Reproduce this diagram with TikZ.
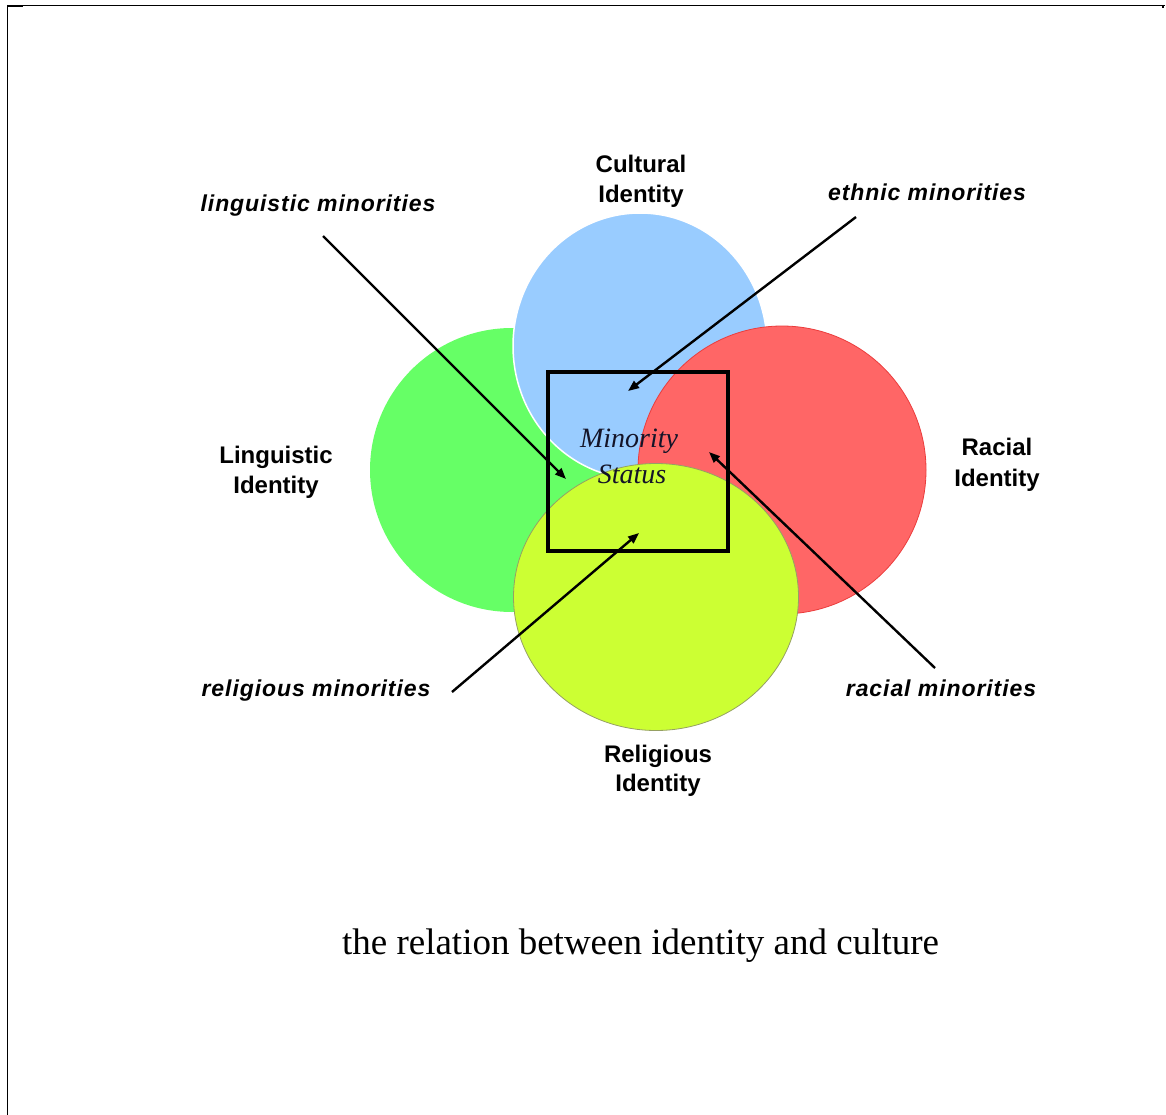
\documentclass[tikz,border=0pt]{standalone}
\usepackage{fontspec}
\setmainfont{Liberation Serif}
\setsansfont{Liberation Sans}
\usetikzlibrary{arrows.meta}
\definecolor{cblue}{RGB}{153,204,255}
\definecolor{cgreen}{RGB}{102,255,102}
\definecolor{cred}{RGB}{255,102,102}
\definecolor{credb}{RGB}{235,60,60}
\definecolor{cyel}{RGB}{204,255,51}
\definecolor{cyelb}{RGB}{150,160,100}
\definecolor{cnavy}{RGB}{20,20,40}
\begin{document}
\begin{tikzpicture}[x=1pt,y=-1pt,
  idlabel/.style={font=\sffamily\bfseries\fontsize{24}{30}\selectfont, inner sep=0pt, anchor=base},
  minlabel/.style={font=\sffamily\bfseries\itshape\fontsize{23}{28}\selectfont\addfontfeatures{LetterSpace=4}, inner sep=0pt, anchor=base},
  mslabel/.style={font=\itshape\fontsize{28}{34}\selectfont, text=cnavy, inner sep=0pt, anchor=base},
  arr/.style={line width=2.4pt, -{Triangle[length=11pt,width=8.5pt]}},
  frameline/.style={line width=1.3pt, black}]
\useasboundingbox (0,0) rectangle (1166,1115);
% frame
\draw[frameline] (7,5.5) -- (1165,5.5);
\draw[line width=1.8pt] (7.5,5) -- (7.5,1115);
\draw[line width=2.2pt] (7,6) -- (23,6);
\draw[line width=2.2pt] (1163,5) -- (1163,8);
% circles
\fill[cgreen] (512,470) circle[radius=142pt];
\filldraw[fill=cblue, draw=white, line width=1.5pt] (640,346) ellipse[x radius=127pt, y radius=133pt];
\filldraw[fill=cred, draw=credb, line width=0.8pt] (782,470) circle[radius=144pt];
\filldraw[fill=cyel, draw=cyelb, line width=0.8pt] (656,597) ellipse[x radius=142.5pt, y radius=133.5pt];
% box
\node[draw, line width=3.6pt, minimum width=180pt, minimum height=179pt, inner sep=0pt] (box) at (638,461.5) {};
% minority status
\node[mslabel] (ms1) at (629,447) {Minority};
\node[mslabel] (ms2) at (632,483) {Status};
% identity labels
\node[idlabel] (cul1) at (641,173) {Cultural};
\node[idlabel] (cul2) at (641,203) {Identity};
\node[idlabel] (lin1) at (276,463) {Linguistic};
\node[idlabel] (lin2) at (276,493) {Identity};
\node[idlabel] (rac1) at (997,455) {Racial};
\node[idlabel] (rac2) at (997,486) {Identity};
\node[idlabel] (rel1) at (658,762) {Religious};
\node[idlabel] (rel2) at (658,791) {Identity};
% minority labels
\node[minlabel] (lm) at (318,212) {linguistic minorities};
\node[minlabel] (em) at (927,201) {ethnic minorities};
\node[minlabel] (rm) at (316,696) {religious minorities};
\node[minlabel] (cm) at (941,696) {racial minorities};
% arrow endpoints
\coordinate (lmS) at (323,236);
\coordinate (lmT) at (566,479);
\coordinate (emS) at (856,217);
\coordinate (emT) at (628,391);
\coordinate (rmS) at (452,692);
\coordinate (rmT) at (639,533);
\coordinate (cmS) at (935,668);
\coordinate (cmT) at (709,452);
\draw[arr] (lmS) -- (lmT);
\draw[arr] (emS) -- (emT);
\draw[arr] (rmS) -- (rmT);
\draw[arr] (cmS) -- (cmT);
% caption
\node[font=\fontsize{37}{44}\selectfont, inner sep=0pt, anchor=base] (cap) at (640.5,954) {the relation between identity and culture};
\end{tikzpicture}
\end{document}
